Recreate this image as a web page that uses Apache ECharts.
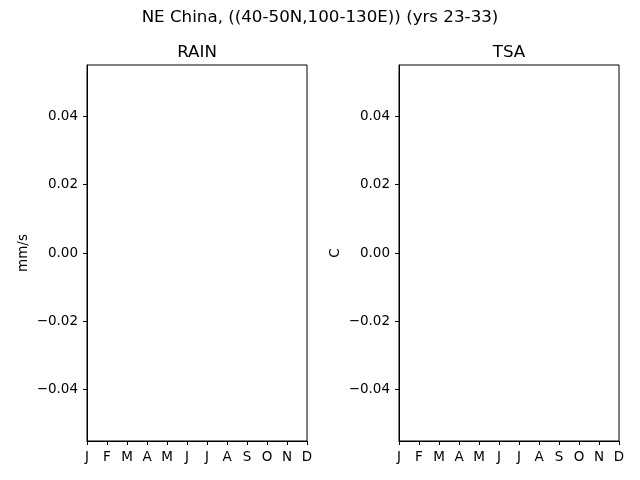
<html>
<head>
    <meta http-equiv="Content-Type" content="text/html; charset=utf-8" />
    <script type="text/javascript" src="https://cdn.jsdelivr.net/npm/echarts@6/dist/echarts.min.js"></script>
</head>
<body style="margin:0">
<div id="main" style="width: 640px;height:480px;"></div>

<script type="text/javascript">
    // data (the reference plots are empty)
    var months = ['J', 'F', 'M', 'A', 'M', 'J', 'J', 'A', 'S', 'O', 'N', 'D'];
    var rainValues = [];
    var tsaValues = [];
    var yTicks = [-0.04, -0.02, 0, 0.02, 0.04];
    var yMin = -0.055, yMax = 0.055;

    var fontFam = 'DejaVu Sans';

    function fmtY(v) {
        var s = Math.abs(v).toFixed(2);
        return (v < -1e-9 ? '\u2212' : '') + s;
    }

    function makeX(idx) {
        return {
            type: 'category',
            gridIndex: idx,
            data: months,
            boundaryGap: false,
            axisLine: {show: true, onZero: false, lineStyle: {color: '#000', width: 1}},
            axisTick: {show: true, length: 4, inside: false, alignWithLabel: true,
                       lineStyle: {color: '#000'}},
            axisLabel: {color: '#000', fontSize: 13.5, fontFamily: fontFam, margin: 9, interval: 0},
            splitLine: {show: false}
        };
    }

    function makeY(idx, name) {
        return {
            type: 'value',
            gridIndex: idx,
            min: yMin,
            max: yMax,
            name: name,
            nameLocation: 'middle',
            nameGap: 57,
            nameTextStyle: {color: '#000', fontSize: 13.5, fontFamily: fontFam},
            axisLine: {show: true, onZero: false, lineStyle: {color: '#000', width: 1}},
            axisTick: {show: true, length: 4, customValues: yTicks, lineStyle: {color: '#000'}},
            axisLabel: {color: '#000', fontSize: 13.5, fontFamily: fontFam, margin: 9,
                        customValues: yTicks, formatter: fmtY},
            splitLine: {show: false}
        };
    }

    function titleText(x, y, str) {
        return {
            type: 'text', x: x, y: y, silent: true,
            style: {text: str, fill: '#000', font: '16.7px "DejaVu Sans"',
                    textAlign: 'center', textVerticalAlign: 'middle'}
        };
    }

    var myChart = echarts.init(document.getElementById('main'));

    var option = {
        backgroundColor: '#fff',
        animation: false,
        graphic: [
            titleText(320, 18, 'NE China, ((40-50N,100-130E)) (yrs 23-33)'),
            titleText(197, 53, 'RAIN'),
            titleText(509, 53, 'TSA')
        ],
        grid: [
            {left: 87, right: 333, top: 65, bottom: 39, show: true, borderColor: '#000', borderWidth: 1},
            {left: 399, right: 21, top: 65, bottom: 39, show: true, borderColor: '#000', borderWidth: 1}
        ],
        xAxis: [makeX(0), makeX(1)],
        yAxis: [makeY(0, 'mm/s'), makeY(1, 'C')],
        series: [
            {name: 'RAIN', type: 'line', xAxisIndex: 0, yAxisIndex: 0, data: rainValues},
            {name: 'TSA', type: 'line', xAxisIndex: 1, yAxisIndex: 1, data: tsaValues}
        ]
    };

    myChart.setOption(option);
</script>
</body>
</html>
